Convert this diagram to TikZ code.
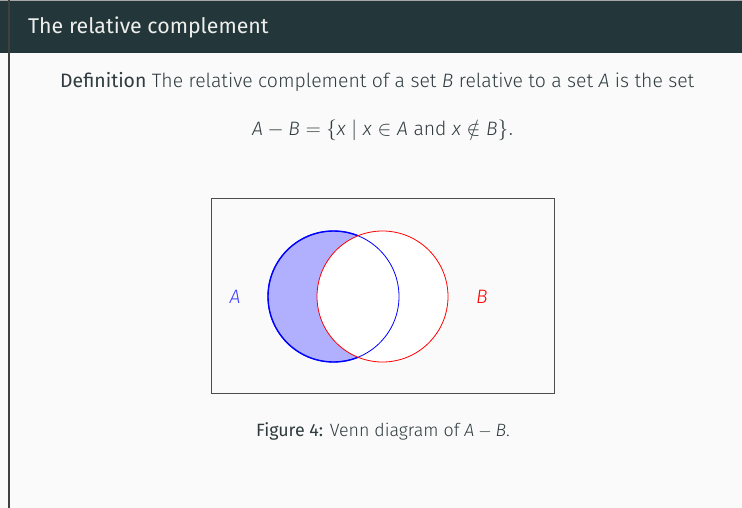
\documentclass[tikz,border=0pt]{standalone}
\usepackage{fontspec}
\setmainfont{Fira Sans}[UprightFont=* Light, ItalicFont=* Light Italic, BoldFont=*]
\definecolor{bgc}{HTML}{FAFAFA}
\definecolor{hdr}{HTML}{23373B}
\definecolor{ttl}{HTML}{EEEEEC}
\definecolor{txt}{HTML}{2F3B3E}
\definecolor{setfill}{HTML}{B0B0FF}
\newcommand{\vv}[1]{\textit{#1}}
\tikzset{
  bodytext/.style={text=txt, font=\fontsize{19.4}{22}\selectfont, inner sep=0pt},
  captext/.style={text=txt, font=\fontsize{17.8}{20}\selectfont, inner sep=0pt},
  titletext/.style={text=ttl, font=\fontsize{21.35}{26}\selectfont\bfseries, inner sep=0pt},
  setlabel/.style={font=\fontsize{19.4}{22}\selectfont\itshape, inner sep=0pt},
}
\begin{document}
\begin{tikzpicture}[x=1pt,y=-1pt]
\useasboundingbox (0,0) rectangle (742,508);
\fill[bgc] (0,0) rectangle (742,508);
\fill[hdr] (0,0) rectangle (742,53);
\draw[gray!70, line width=1pt] (0,0.5) -- (742,0.5);
\draw[black!75, line width=2pt] (9,0) -- (9,508);
\node[titletext, anchor=base west] (title) at (28,34) {The relative complement};
\node[bodytext, anchor=base west] (def) at (60,87.5) {\textbf{Definition} The relative complement of a set \vv{B} relative to a set \vv{A} is the set};
\node[bodytext, anchor=base] (eq) at (383,136) {$\vv{A}-\vv{B}=\{\vv{x}\mid \vv{x}\in\vv{A}\mbox{ and }\vv{x}\notin\vv{B}\}.$};
% figure
\draw[black!70, line width=0.8pt] (211,198) rectangle (554,393);
\coordinate (ca) at (333.5,296.5);
\coordinate (cb) at (382.5,296.5);
\fill[white] (ca) circle[radius=65.5];
\fill[white] (cb) circle[radius=65.5];
\begin{scope}[even odd rule]
  \clip (cb) circle[radius=65.5] (0,0) rectangle (742,508);
  \fill[setfill] (ca) circle[radius=65.5];
  \draw[blue, line width=1.4pt] (ca) circle[radius=65.5];
\end{scope}
\draw[blue, line width=0.8pt] (ca) circle[radius=65.5];
\draw[red, line width=0.8pt] (cb) circle[radius=65.5];
\node[setlabel, text=blue!75, anchor=base] (la) at (235,303) {A};
\node[setlabel, text=red, anchor=base] (lb) at (482,303) {B};
\node[captext, anchor=base] (cap) at (383,436) {\textbf{Figure 4:} Venn diagram of $\vv{A}-\vv{B}$.};
\end{tikzpicture}
\end{document}
